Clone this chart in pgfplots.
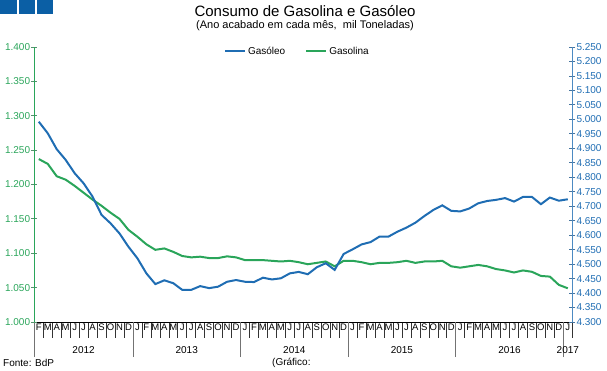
\documentclass[border=0pt]{standalone}
\usepackage{pgfplots}
\pgfplotsset{compat=1.18}
\usepackage{pgfplotstable}
\usepackage{fontspec}
\setmainfont{Liberation Sans}
\definecolor{cblue}{HTML}{1F6DB3}
\definecolor{cgreen}{HTML}{2AA55A}
\definecolor{logo}{HTML}{0B5FA5}
\pgfplotstableread{
i v
0 1.237
1 1.230
2 1.212
3 1.207
4 1.198
5 1.188
6 1.178
7 1.169
8 1.159
9 1.150
10 1.134
11 1.124
12 1.113
13 1.105
14 1.107
15 1.102
16 1.096
17 1.094
18 1.095
19 1.093
20 1.093
21 1.0955
22 1.094
23 1.090
24 1.090
25 1.090
26 1.089
27 1.088
28 1.089
29 1.087
30 1.084
31 1.086
32 1.088
33 1.081
34 1.089
35 1.089
36 1.087
37 1.084
38 1.086
39 1.086
40 1.087
41 1.089
42 1.086
43 1.088
44 1.088
45 1.089
46 1.081
47 1.079
48 1.081
49 1.083
50 1.081
51 1.077
52 1.075
53 1.072
54 1.075
55 1.073
56 1.067
57 1.066
58 1.054
59 1.049
}\gasolina
\pgfplotstableread{
i v
0 4.992
1 4.952
2 4.897
3 4.860
4 4.814
5 4.779
6 4.733
7 4.670
8 4.641
9 4.606
10 4.560
11 4.520
12 4.468
13 4.431
14 4.444
15 4.434
16 4.411
17 4.411
18 4.424
19 4.417
20 4.422
21 4.439
22 4.445
23 4.439
24 4.438
25 4.453
26 4.447
27 4.451
28 4.468
29 4.473
30 4.465
31 4.489
32 4.503
33 4.480
34 4.535
35 4.551
36 4.568
37 4.576
38 4.595
39 4.595
40 4.612
41 4.626
42 4.643
43 4.666
44 4.687
45 4.703
46 4.684
47 4.682
48 4.692
49 4.710
50 4.718
51 4.722
52 4.728
53 4.716
54 4.732
55 4.732
56 4.707
57 4.730
58 4.719
59 4.724
}\gasoleo
\begin{document}
\begin{tikzpicture}[x=1pt,y=1pt]
\useasboundingbox (0,0) rectangle (607,371);
\fill[logo] (0,371) rectangle (17,356.7);
\fill[logo] (18.7,371) rectangle (35,356.7);
\fill[logo] (37,371) rectangle (53.3,356.7);
\node[font=\fontsize{15}{18}\selectfont] at (305,360) {Consumo de Gasolina e Gasóleo};
\node[font=\fontsize{11}{13}\selectfont] at (305,345) {(Ano acabado em cada mês,\ \ mil Toneladas)};
\node[font=\fontsize{10}{12}\selectfont, anchor=west, inner sep=0pt] at (3,8) {Fonte: BdP};
\node[font=\fontsize{10}{12}\selectfont, anchor=west, inner sep=0pt] at (272,8) {(Gráfico:};
% x category axis
\begin{axis}[
  at={(34.3pt,49pt)}, anchor=south west, width=538pt, height=275pt, scale only axis,
  xmin=-0.5, xmax=59.5, ymin=0, ymax=1,
  hide y axis, axis x line*=bottom,
  x axis line style={black, line width=0.8pt},
  xtick={0,...,59},
  xticklabels={F,M,A,M,J,J,A,S,O,N,D,J,F,M,A,M,J,J,A,S,O,N,D,J,F,M,A,M,J,J,A,S,O,N,D,J,F,M,A,M,J,J,A,S,O,N,D,J,F,M,A,M,J,J,A,S,O,N,D,J},
  xticklabel style={font=\fontsize{9.5}{11}\selectfont, inner sep=1.5pt},
  major tick length=0pt,
  minor xtick={-0.5,0.5,...,59.5},
  minor tick length=16pt,
  tick align=outside,
  minor x tick style={black!80, line width=0.6pt},
  extra x ticks={-0.5,10.5,22.5,34.5,46.5,58.5},
  extra x tick labels={},
  extra x tick style={major tick length=35pt, tick align=outside, xtick style={black!55, line width=0.7pt}},
  clip=false,
]
\node[font=\fontsize{10}{12}\selectfont] at (axis cs:5,0) [yshift=-28pt] {2012};
\node[font=\fontsize{10}{12}\selectfont] at (axis cs:16.5,0) [yshift=-28pt] {2013};
\node[font=\fontsize{10}{12}\selectfont] at (axis cs:28.5,0) [yshift=-28pt] {2014};
\node[font=\fontsize{10}{12}\selectfont] at (axis cs:40.5,0) [yshift=-28pt] {2015};
\node[font=\fontsize{10}{12}\selectfont] at (axis cs:52.5,0) [yshift=-28pt] {2016};
\node[font=\fontsize{10}{12}\selectfont] at (axis cs:59,0) [yshift=-28pt] {2017};
\end{axis}
% left axis (Gasolina)
\begin{axis}[
  at={(34.3pt,49pt)}, anchor=south west, width=538pt, height=275pt, scale only axis,
  xmin=-0.5, xmax=59.5, ymin=1, ymax=1.4,
  hide x axis, axis y line*=left,
  y axis line style={cgreen, line width=1.2pt},
  ytick={1,1.05,1.1,1.15,1.2,1.25,1.3,1.35,1.4},
  tick align=center, major tick length=6pt,
  ytick style={cgreen!50!gray, line width=0.8pt},
  yticklabel style={text=cgreen, font=\fontsize{10}{12}\selectfont, inner sep=1pt,
    /pgf/number format/.cd, fixed, fixed zerofill, precision=3, assume math mode=true},
]
\addplot[cgreen, line width=2pt] table[x=i, y=v] {\gasolina};
\end{axis}
% right axis (Gasoleo)
\begin{axis}[
  at={(34.3pt,49pt)}, anchor=south west, width=538pt, height=275pt, scale only axis,
  xmin=-0.5, xmax=59.5, ymin=4.3, ymax=5.25,
  hide x axis, axis y line*=right,
  y axis line style={cblue!80!white, line width=1pt},
  ytick={4.3,4.35,4.4,4.45,4.5,4.55,4.6,4.65,4.7,4.75,4.8,4.85,4.9,4.95,5.0,5.05,5.1,5.15,5.2,5.25},
  tick align=center, major tick length=6pt,
  ytick style={cblue!60!gray, line width=0.8pt},
  yticklabel style={text=cblue, font=\fontsize{10}{12}\selectfont, inner sep=1pt,
    /pgf/number format/.cd, fixed, fixed zerofill, precision=3, assume math mode=true},
  legend columns=2,
  legend style={at={(0.489,0.985)}, anchor=center, draw=none, fill=none,
    font=\fontsize{10}{12}\selectfont, inner sep=0pt,
    /tikz/every even column/.append style={column sep=18pt}},
  legend image code/.code={\draw[#1] (0pt,0pt) -- (20pt,0pt);},
]
\addplot[cblue, line width=2pt] table[x=i, y=v] {\gasoleo};
\addlegendentry{Gasóleo}
\addlegendimage{cgreen, line width=2pt}
\addlegendentry{Gasolina}
\end{axis}
\end{tikzpicture}
\end{document}
